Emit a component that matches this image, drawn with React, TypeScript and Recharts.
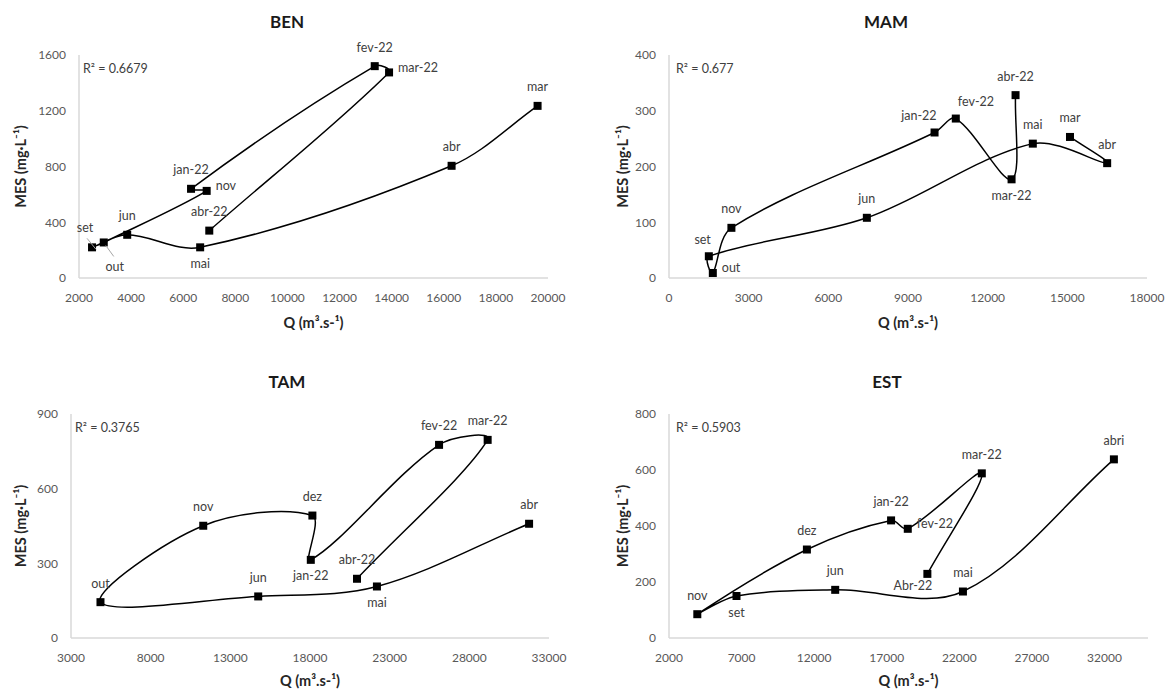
import React from 'react';
import { ScatterChart, Scatter, XAxis, YAxis, Label } from 'recharts';

// BEN
const benMonths = ['mar', 'abr', 'mai', 'jun', 'set', 'out', 'nov', 'jan-22', 'fev-22', 'mar-22', 'abr-22'];
const benQ = [19600, 16300, 6650, 3850, 2500, 2950, 6900, 6300, 13350, 13900, 7000];
const benMes = [1235, 805, 220, 310, 220, 255, 625, 640, 1520, 1475, 340];
const benLabelPos = ['top', 'top', 'bottom', 'top', 'leaderTopLeft', 'leaderBottomRight', 'right', 'top', 'top', 'right', 'top'];
const benXTicks = [2000, 4000, 6000, 8000, 10000, 12000, 14000, 16000, 18000, 20000];
const benYTicks = [0, 400, 800, 1200, 1600];

// MAM
const mamMonths = ['mar', 'abr', 'mai', 'jun', 'set', 'out', 'nov', 'jan-22', 'fev-22', 'mar-22', 'abr-22'];
const mamQ = [15100, 16500, 13700, 7450, 1500, 1650, 2350, 10000, 10800, 12900, 13050];
const mamMes = [253, 206, 241, 108, 39, 9, 90, 261, 286, 177, 328];
const mamLabelPos = ['top', 'top', 'top', 'top', 'topLeft', 'right', 'top', 'topLeft', 'topRight', 'bottom', 'top'];
const mamXTicks = [0, 3000, 6000, 9000, 12000, 15000, 18000];
const mamYTicks = [0, 100, 200, 300, 400];

// TAM
const tamMonths = ['abr', 'mai', 'jun', 'out', 'nov', 'dez', 'jan-22', 'fev-22', 'mar-22', 'abr-22'];
const tamQ = [31750, 22200, 14750, 4850, 11300, 18150, 18050, 26100, 29150, 20950];
const tamMes = [459, 207, 167, 144, 451, 492, 314, 776, 796, 238];
const tamLabelPos = ['top', 'bottom', 'top', 'top', 'top', 'top', 'bottom', 'top', 'top', 'top'];
const tamXTicks = [3000, 8000, 13000, 18000, 23000, 28000, 33000];
const tamYTicks = [0, 300, 600, 900];

// EST
const estMonths = ['abri', 'mai', 'jun', 'set', 'nov', 'dez', 'jan-22', 'fev-22', 'mar-22', 'Abr-22'];
const estQ = [32650, 22250, 13450, 6650, 3950, 11500, 17300, 18450, 23550, 19800];
const estMes = [638, 166, 172, 150, 85, 316, 420, 390, 588, 229];
const estLabelPos = ['top', 'top', 'top', 'bottom', 'top', 'top', 'top', 'right', 'top', 'bottomLeft'];
const estXTicks = [2000, 7000, 12000, 17000, 22000, 27000, 32000];
const estYTicks = [0, 200, 400, 600, 800];

const toRows = (months: string[], q: number[], mes: number[], pos: string[]) =>
  months.map((m, i) => ({ name: m, q: q[i], mes: mes[i], pos: pos[i] }));

// smoothed line like excel's, tangents weighted by chord length so short segments don't loop
function excelSmooth(context: any) {
  let pts: number[][] = [];
  const dist = (a: number[], b: number[]) => Math.hypot(b[0] - a[0], b[1] - a[1]) || 1e-6;
  return {
    areaStart() {},
    areaEnd() {},
    lineStart() {
      pts = [];
    },
    lineEnd() {
      const n = pts.length;
      if (!n) return;
      context.moveTo(pts[0][0], pts[0][1]);
      for (let i = 0; i < n - 1; i++) {
        const p0 = pts[Math.max(i - 1, 0)];
        const p1 = pts[i];
        const p2 = pts[i + 1];
        const p3 = pts[Math.min(i + 2, n - 1)];
        const d01 = i > 0 ? dist(p0, p1) : 0;
        const d12 = dist(p1, p2);
        const d23 = i + 2 < n ? dist(p2, p3) : 0;
        const k1 = d12 / (d01 + d12) / 3;
        const k2 = d12 / (d12 + d23) / 3;
        context.bezierCurveTo(
          p1[0] + (p2[0] - p0[0]) * k1,
          p1[1] + (p2[1] - p0[1]) * k1,
          p2[0] - (p3[0] - p1[0]) * k2,
          p2[1] - (p3[1] - p1[1]) * k2,
          p2[0],
          p2[1]
        );
      }
    },
    point(x: number, y: number) {
      pts.push([+x, +y]);
    },
  };
}

const labelColor = '#404040';

function monthLabel(cx: number, cy: number, text: string, pos: string) {
  let x = cx;
  let y = cy - 19;
  let anchor: 'start' | 'middle' | 'end' = 'middle';
  let leader: number[] | null = null;
  switch (pos) {
    case 'bottom':
      y = cy + 16;
      break;
    case 'right':
      x = cx + 9;
      y = cy - 5;
      anchor = 'start';
      break;
    case 'topLeft':
      x = cx + 2;
      y = cy - 17;
      anchor = 'end';
      break;
    case 'topRight':
      x = cx + 2;
      y = cy - 17;
      anchor = 'start';
      break;
    case 'bottomLeft':
      x = cx + 5;
      y = cy + 12;
      anchor = 'end';
      break;
    case 'leaderTopLeft':
      x = cx - 7;
      y = cy - 20;
      leader = [cx - 5, cy - 9, cx + 4, cy + 2];
      break;
    case 'leaderBottomRight':
      x = cx + 11;
      y = cy + 24;
      leader = [cx + 10, cy + 14, cx + 2, cy + 3];
      break;
  }
  return (
    <g>
      {leader && (
        <line x1={leader[0]} y1={leader[1]} x2={leader[2]} y2={leader[3]} stroke="#a6a6a6" strokeWidth={1} />
      )}
      <text x={x} y={y} textAnchor={anchor} dominantBaseline="central" fontSize={12.5} fill={labelColor}>
        {text}
      </text>
    </g>
  );
}

const renderPoint = (props: any) => {
  const { cx, cy, payload } = props;
  const s = 8;
  return (
    <g>
      <rect x={cx - s / 2} y={cy - s / 2} width={s} height={s} fill="#000" />
      {monthLabel(cx, cy, payload.name, payload.pos)}
    </g>
  );
};

interface PanelProps {
  title: string;
  r2: string;
  data: { name: string; q: number; mes: number; pos: string }[];
  xTicks: number[];
  yTicks: number[];
  xDomain: number[];
  left: number;
  top: number;
  width: number;
  height: number;
  marginTop: number;
  marginRight: number;
  yAxisWidth: number;
  xAxisHeight: number;
  yTitleX: number;
  xTitleDy: number;
  titleX: number;
  r2X: number;
}

function Panel(p: PanelProps) {
  return (
    <div style={{ position: 'absolute', left: p.left, top: p.top, width: p.width, height: p.height }}>
      <ScatterChart
        width={p.width}
        height={p.height}
        margin={{ top: p.marginTop, right: p.marginRight, bottom: 0, left: 0 }}
      >
        <XAxis
          type="number"
          dataKey="q"
          domain={p.xDomain}
          ticks={p.xTicks}
          interval={0}
          tickLine={false}
          tickMargin={9}
          height={p.xAxisHeight}
          axisLine={{ stroke: '#d9d9d9', strokeWidth: 1.5 }}
          tick={{ fill: '#595959', fontSize: 12 }}
        >
          <Label
            content={({ viewBox }: any) => (
              <text
                x={viewBox.x + viewBox.width / 2}
                y={viewBox.y + p.xTitleDy}
                textAnchor="middle"
                dominantBaseline="central"
                fontSize={14.5}
                fontWeight="bold"
                fill="#262626"
              >
                Q (m³.s-¹)
              </text>
            )}
          />
        </XAxis>
        <YAxis
          type="number"
          dataKey="mes"
          domain={[p.yTicks[0], p.yTicks[p.yTicks.length - 1]]}
          ticks={p.yTicks}
          interval={0}
          tickLine={false}
          tickMargin={7}
          width={p.yAxisWidth}
          axisLine={{ stroke: '#d9d9d9', strokeWidth: 1.5 }}
          tick={{ fill: '#595959', fontSize: 12 }}
        >
          <Label
            content={({ viewBox }: any) => {
              const cy = viewBox.y + viewBox.height / 2;
              return (
                <text
                  x={p.yTitleX}
                  y={cy}
                  transform={`rotate(-90, ${p.yTitleX}, ${cy})`}
                  textAnchor="middle"
                  dominantBaseline="central"
                  fontSize={14.5}
                  fontWeight="bold"
                  fill="#262626"
                >
                  MES (mg·L⁻¹)
                </text>
              );
            }}
          />
        </YAxis>
        <Scatter
          data={p.data}
          shape={renderPoint}
          line={{ stroke: '#000', strokeWidth: 1.5 }}
          lineJointType={excelSmooth as any}
          isAnimationActive={false}
        />
      </ScatterChart>
      <div
        style={{
          position: 'absolute',
          left: p.titleX - 60,
          width: 120,
          top: 11,
          textAlign: 'center',
          fontWeight: 'bold',
          fontSize: 17,
          color: '#1a1a1a',
        }}
      >
        {p.title}
      </div>
      <div
        style={{
          position: 'absolute',
          left: p.r2X,
          top: p.marginTop + 6,
          fontSize: 12.5,
          color: labelColor,
          whiteSpace: 'nowrap',
        }}
      >
        R² = {p.r2}
      </div>
    </div>
  );
}

export default function App() {
  return (
    <div
      style={{
        position: 'absolute',
        left: 0,
        top: 0,
        width: 1173,
        height: 691,
        background: '#fff',
        fontFamily: 'Lato, "Open Sans", sans-serif',
        overflow: 'hidden',
      }}
    >
      <Panel
        title="BEN"
        r2="0.6679"
        data={toRows(benMonths, benQ, benMes, benLabelPos)}
        xTicks={benXTicks}
        yTicks={benYTicks}
        xDomain={[2000, 20000]}
        left={0}
        top={0}
        width={580}
        height={340}
        marginTop={55}
        marginRight={32}
        yAxisWidth={79}
        xAxisHeight={62}
        yTitleX={20}
        xTitleDy={44}
        titleX={287}
        r2X={83}
      />
      <Panel
        title="MAM"
        r2="0.677"
        data={toRows(mamMonths, mamQ, mamMes, mamLabelPos)}
        xTicks={mamXTicks}
        yTicks={mamYTicks}
        xDomain={[0, 18000]}
        left={580}
        top={0}
        width={593}
        height={340}
        marginTop={55}
        marginRight={26}
        yAxisWidth={89}
        xAxisHeight={62}
        yTitleX={42}
        xTitleDy={44}
        titleX={306}
        r2X={96}
      />
      <Panel
        title="TAM"
        r2="0.3765"
        data={toRows(tamMonths, tamQ, tamMes, tamLabelPos)}
        xTicks={tamXTicks}
        yTicks={tamYTicks}
        xDomain={[3000, 33000]}
        left={0}
        top={360}
        width={580}
        height={331}
        marginTop={54}
        marginRight={31}
        yAxisWidth={71}
        xAxisHeight={53}
        yTitleX={20}
        xTitleDy={42}
        titleX={287}
        r2X={75}
      />
      <Panel
        title="EST"
        r2="0.5903"
        data={toRows(estMonths, estQ, estMes, estLabelPos)}
        xTicks={estXTicks}
        yTicks={estYTicks}
        xDomain={[2000, 35000]}
        left={580}
        top={360}
        width={593}
        height={331}
        marginTop={54}
        marginRight={25}
        yAxisWidth={89}
        xAxisHeight={53}
        yTitleX={42}
        xTitleDy={42}
        titleX={307}
        r2X={96}
      />
    </div>
  );
}
